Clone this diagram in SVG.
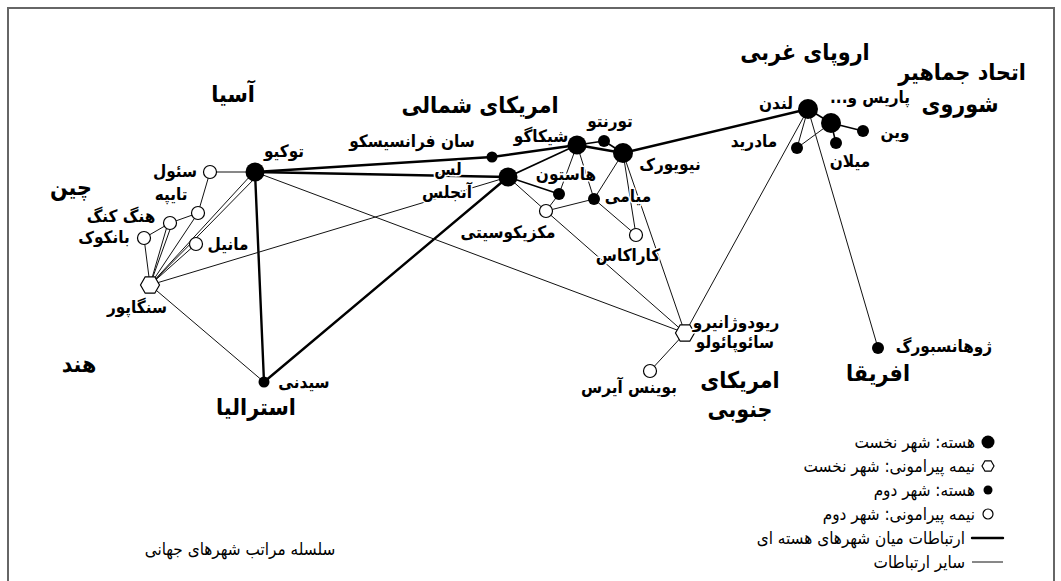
<svg xmlns="http://www.w3.org/2000/svg" width="1061" height="581" viewBox="0 0 1061 581">
<style>
.frame{fill:none;stroke:#666;stroke-width:2}
.core{stroke:#000;stroke-width:2.4;fill:none;stroke-linecap:round}
.mid{stroke:#000;stroke-width:1.6;fill:none}
.thin{stroke:#111;stroke-width:1;fill:none}
.big{fill:#000}
.small{fill:#000}
.open{fill:#fff;stroke:#000;stroke-width:1.2}
.hex{fill:#fff;stroke:#000;stroke-width:1.2}
.reg{font-family:"DejaVu Sans Condensed","DejaVu Sans",sans-serif;font-weight:bold;font-size:23px;fill:#000;text-anchor:middle}
.lbl{font-family:"DejaVu Sans Condensed","DejaVu Sans",sans-serif;font-weight:bold;font-size:17px;fill:#000;text-anchor:middle;stroke:#fff;stroke-width:3;paint-order:stroke;stroke-linejoin:round}
.leg{font-family:"DejaVu Sans Condensed","DejaVu Sans",sans-serif;font-size:17px;fill:#000;text-anchor:end}
.rtl{direction:rtl;unicode-bidi:embed}
</style>
<rect width="1061" height="581" fill="#fff"/>
<path class="frame" d="M8,581 V8 H1054 V581"/>
<g id="connectors">
<line class="core" x1="255" y1="172" x2="492" y2="157"/>
<line class="core" x1="492" y1="157" x2="577" y2="145"/>
<line class="core" x1="255" y1="172" x2="508" y2="177"/>
<line class="core" x1="255" y1="172" x2="264" y2="382"/>
<line class="core" x1="264" y1="382" x2="508" y2="177"/>
<line class="mid" x1="508" y1="177" x2="577" y2="145"/>
<line class="core" x1="577" y1="145" x2="623" y2="153"/>
<line class="mid" x1="577" y1="145" x2="604" y2="141"/>
<line class="mid" x1="604" y1="141" x2="623" y2="153"/>
<line class="core" x1="623" y1="153" x2="808" y2="109"/>
<line class="mid" x1="508" y1="177" x2="559" y2="194"/>
<line class="mid" x1="808" y1="109" x2="831" y2="123"/>
<line class="mid" x1="831" y1="123" x2="863" y2="131"/>
<line class="mid" x1="831" y1="123" x2="836" y2="143"/>
<line class="thin" x1="831" y1="123" x2="797" y2="148"/>
<line class="thin" x1="808" y1="109" x2="797" y2="148"/>
<line class="thin" x1="808" y1="109" x2="685" y2="333"/>
<line class="thin" x1="808" y1="109" x2="878" y2="348"/>
<line class="thin" x1="255" y1="172" x2="210" y2="172"/>
<line class="thin" x1="210" y1="172" x2="198" y2="213"/>
<line class="thin" x1="198" y1="213" x2="170" y2="223"/>
<line class="thin" x1="170" y1="223" x2="144" y2="238"/>
<line class="thin" x1="150" y1="285" x2="144" y2="238"/>
<line class="thin" x1="150" y1="285" x2="168" y2="223"/>
<line class="thin" x1="150" y1="285" x2="172" y2="224"/>
<line class="thin" x1="150" y1="285" x2="198" y2="213"/>
<line class="thin" x1="150" y1="285" x2="252" y2="174"/>
<line class="thin" x1="150" y1="285" x2="257" y2="176"/>
<line class="thin" x1="150" y1="285" x2="196" y2="244"/>
<line class="thin" x1="150" y1="285" x2="508" y2="177"/>
<line class="thin" x1="150" y1="285" x2="264" y2="382"/>
<line class="thin" x1="255" y1="172" x2="685" y2="333"/>
<line class="thin" x1="508" y1="177" x2="546" y2="211"/>
<line class="thin" x1="546" y1="211" x2="685" y2="333"/>
<line class="thin" x1="546" y1="211" x2="559" y2="194"/>
<line class="thin" x1="546" y1="211" x2="594" y2="199"/>
<line class="thin" x1="577" y1="145" x2="559" y2="194"/>
<line class="thin" x1="577" y1="145" x2="594" y2="199"/>
<line class="thin" x1="623" y1="153" x2="594" y2="199"/>
<line class="thin" x1="623" y1="153" x2="636" y2="235"/>
<line class="thin" x1="623" y1="153" x2="685" y2="333"/>
<line class="thin" x1="594" y1="199" x2="636" y2="235"/>
<line class="thin" x1="685" y1="333" x2="650" y2="371"/>
</g>
<g id="tokyo"><circle class="big" cx="255" cy="172" r="9.5"/><text class="lbl" x="284" y="157">توکیو</text></g>
<g id="seoul"><circle class="open" cx="210" cy="172" r="6.5"/><text class="lbl" x="175" y="177">سئول</text></g>
<g id="taipei"><circle class="open" cx="198" cy="213" r="6.5"/><text class="lbl" x="171" y="200">تایپه</text></g>
<g id="hongkong"><circle class="open" cx="170" cy="223" r="6.5"/><text class="lbl" x="121" y="222">هنگ کنگ</text></g>
<g id="bangkok"><circle class="open" cx="144" cy="238" r="6.5"/><text class="lbl" x="104" y="243">بانکوک</text></g>
<g id="manila"><circle class="open" cx="196" cy="244" r="6.5"/><text class="lbl" x="228" y="250">مانیل</text></g>
<g id="singapore"><polygon class="hex" points="159.5,285 154.8,293.2 145.2,293.2 140.5,285 145.2,276.8 154.8,276.8"/><text class="lbl" x="137" y="313">سنگاپور</text></g>
<g id="sydney"><circle class="small" cx="264" cy="382" r="5.5"/><text class="lbl" x="304" y="388">سیدنی</text></g>
<g id="sf"><circle class="small" cx="492" cy="157" r="5.5"/><text class="lbl" x="412" y="147">سان فرانسیسکو</text></g>
<g id="la"><circle class="big" cx="508" cy="177" r="9.5"/><text class="lbl" x="448" y="175">لس</text><text class="lbl" x="447" y="198">آنجلس</text></g>
<g id="chicago"><circle class="big" cx="577" cy="145" r="9.5"/><text class="lbl" x="541" y="142">شیکاگو</text></g>
<g id="toronto"><circle class="small" cx="604" cy="141" r="6"/><text class="lbl" x="610" y="127">تورنتو</text></g>
<g id="newyork"><circle class="big" cx="623" cy="153" r="10"/><text class="lbl" x="670" y="170">نیویورک</text></g>
<g id="houston"><circle class="small" cx="559" cy="194" r="6"/><text class="lbl" x="566" y="180">هاستون</text></g>
<g id="miami"><circle class="small" cx="594" cy="199" r="6"/><text class="lbl" x="628" y="202">میامی</text></g>
<g id="mexico"><circle class="open" cx="546" cy="211" r="6.5"/><text class="lbl" x="508" y="238">مکزیکوسیتی</text></g>
<g id="caracas"><circle class="open" cx="636" cy="235" r="6.5"/><text class="lbl" x="628" y="261">کاراکاس</text></g>
<g id="rio"><polygon class="hex" points="694.5,333 689.8,341.2 680.2,341.2 675.5,333 680.2,324.8 689.8,324.8"/><text class="lbl" x="736" y="328">ریودوژانیرو</text><text class="lbl" x="735" y="348">سائوپائولو</text></g>
<g id="buenosaires"><circle class="open" cx="650" cy="371" r="6.5"/><text class="lbl" x="629" y="393">بوینس آیرس</text></g>
<g id="london"><circle class="big" cx="808" cy="109" r="10"/><text class="lbl" x="776" y="109">لندن</text></g>
<g id="paris"><circle class="big" cx="831" cy="123" r="10"/><text class="lbl rtl" x="870" y="103">پاریس و...</text></g>
<g id="vienna"><circle class="small" cx="863" cy="131" r="6"/><text class="lbl" x="895" y="138">وین</text></g>
<g id="milan"><circle class="small" cx="836" cy="143" r="6"/><text class="lbl" x="850" y="167">میلان</text></g>
<g id="madrid"><circle class="small" cx="797" cy="148" r="6"/><text class="lbl" x="754" y="147">مادرید</text></g>
<g id="johannesburg"><circle class="small" cx="878" cy="348" r="6"/><text class="lbl" x="944" y="352">ژوهانسبورگ</text></g>
<g id="regions">
<text class="reg" x="233" y="102">آسیا</text>
<text class="reg" x="71" y="195">چین</text>
<text class="reg" x="480" y="113">امریکای شمالی</text>
<text class="reg" x="805" y="60">اروپای غربی</text>
<text class="reg" x="962" y="80">اتحاد جماهیر</text>
<text class="reg" x="960" y="112">شوروی</text>
<text class="reg" x="79" y="372">هند</text>
<text class="reg" x="256" y="415">استرالیا</text>
<text class="reg" x="740" y="388">امریکای</text>
<text class="reg" x="740" y="417">جنوبی</text>
<text class="reg" x="878" y="381">افریقا</text>
</g>
<g id="legend">
<circle class="big" cx="988" cy="442" r="6.5"/><text class="leg" x="975" y="448">هسته: شهر نخست</text>
<polygon class="hex" points="994,466 991,471.2 985,471.2 982,466 985,460.8 991,460.8"/><text class="leg" x="975" y="472">نیمه پیرامونی: شهر نخست</text>
<circle class="small" cx="988" cy="490" r="4.5"/><text class="leg" x="975" y="496">هسته: شهر دوم</text>
<circle class="open" cx="988" cy="514" r="5"/><text class="leg" x="975" y="520">نیمه پیرامونی: شهر دوم</text>
<line class="core" x1="972" y1="538" x2="1003" y2="538" stroke-width="2"/><text class="leg" x="965" y="544">ارتباطات میان شهرهای هسته ای</text>
<line class="thin" x1="972" y1="562" x2="1003" y2="562"/><text class="leg" x="965" y="568">سایر ارتباطات</text>
</g>
<text id="title" class="leg" style="text-anchor:middle" x="240" y="555">سلسله مراتب شهرهای جهانی</text>
</svg>
